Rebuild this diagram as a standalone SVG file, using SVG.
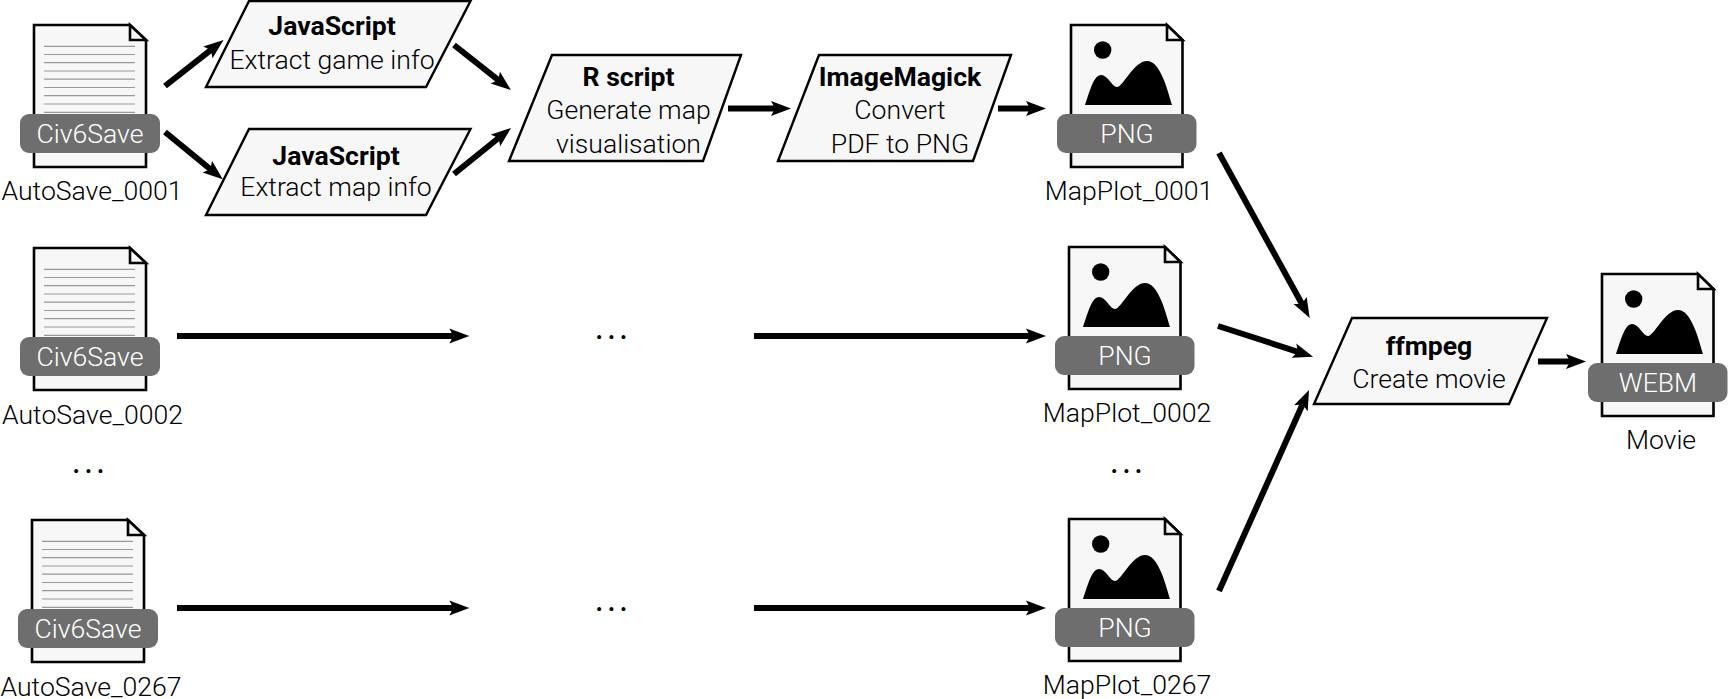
<svg xmlns="http://www.w3.org/2000/svg" width="1728" height="699" viewBox="0 0 1728 699">
<style>
text{font-family:Roboto,"Liberation Sans",sans-serif;font-size:26.6px;font-weight:300;fill:#000;text-anchor:middle}
text.b{font-weight:700}
text.w{fill:#fff}
text.d{font-size:48px;letter-spacing:0.7px}
.page{fill:#f7f7f7;stroke:#000;stroke-width:2.6}
.fold{fill:#f7f7f7;stroke:#000;stroke-width:2.6}
.rule{stroke:#999;stroke-width:1.2;fill:none}
.badge{fill:#6e6e6e}
.para{fill:#f7f7f7;stroke:#000;stroke-width:2.4}
.arr{fill:none;stroke:#000;stroke-width:6;marker-end:url(#head)}
</style>
<defs>
<marker id="head" markerUnits="userSpaceOnUse" markerWidth="22" markerHeight="18" refX="4" refY="8" orient="auto"><path d="M0,0.500 L20,8 L0,15.500 L4,8 Z" fill="#000"/></marker>
<g id="textdoc">
<path class="page" d="M34,25 H130 L146,40 V167 H34 Z"/>
<path class="fold" d="M130,25 V40 H146 Z"/>
<path class="rule" d="M44,46.300H135M44,54.500H135M44,62.700H135M44,71H135M44,79.200H135M44,87.500H135M44,95.700H135M44,104H135M44,112.300H135"/>
<rect class="badge" x="20" y="114" width="140" height="39" rx="9"/>
<text class="w" x="90" y="142.500">Civ6Save</text>
</g>
<g id="imgdoc">
<path class="page" d="M1071,25 H1167 L1182.500,40 V167 H1071 Z"/>
<path class="fold" d="M1167,25 V40 H1182.500 Z"/>
<circle cx="1102.700" cy="50" r="8.700"/>
<path d="M1085,105 C1090,90 1094,75 1101,75 C1108,75 1112,87 1117,87 C1123,87 1134,61 1147,61 C1160,61 1167,88 1172,105 Z"/>
<rect class="badge" x="1057" y="114" width="139.500" height="39" rx="9"/>
</g>
</defs>
<g id="connectors">
<path class="arr" d="M165,86L211,49.900"/>
<path class="arr" d="M165,132L210.400,169.200"/>
<path class="arr" d="M454,45L498.400,80.100"/>
<path class="arr" d="M454,174L498.600,138"/>
<path class="arr" d="M728,108.500H775"/>
<path class="arr" d="M998,108.500H1030"/>
<path class="arr" d="M177,336H453.300"/>
<path class="arr" d="M754,336H1030"/>
<path class="arr" d="M177,608H453.300"/>
<path class="arr" d="M754,608H1030"/>
<path class="arr" d="M1219,153L1302,304"/>
<path class="arr" d="M1218,326L1297.800,351.800"/>
<path class="arr" d="M1219,591L1302.500,404.600"/>
<path class="arr" d="M1538,361.500H1570"/>
</g>
<g id="autosave1"><use href="#textdoc"/><text x="92" y="199.500">AutoSave_0001</text></g>
<g id="autosave2"><use href="#textdoc" y="223"/><text x="92.500" y="423.500">AutoSave_0002</text></g>
<g id="autosave3"><use href="#textdoc" x="-2" y="495"/><text x="91" y="695.500">AutoSave_0267</text></g>
<g id="js1"><polygon class="para" points="249,1 470.500,1 426,87 206,87"/><text class="b" x="332" y="34.500">JavaScript</text><text x="332" y="68.500">Extract game info</text></g>
<g id="js2"><polygon class="para" points="249,129 470.500,129 426,215 206,215"/><text class="b" x="336" y="165">JavaScript</text><text x="336" y="195.500">Extract map info</text></g>
<g id="rscript"><polygon class="para" points="552,55 741,55 703,161 509,161"/><text class="b" x="628.500" y="85.500">R script</text><text x="628.500" y="119">Generate map</text><text x="628.500" y="152.500">visualisation</text></g>
<g id="imagemagick"><polygon class="para" points="819,55 1011,55 973,161 778,161"/><text class="b" x="900" y="85.500">ImageMagick</text><text x="900" y="119">Convert</text><text x="900" y="152.500">PDF to PNG</text></g>
<g id="ffmpeg"><polygon class="para" points="1352,318 1547,318 1509,404 1314,404"/><text class="b" x="1429" y="355">ffmpeg</text><text x="1429" y="388">Create movie</text></g>
<g id="mapplot1"><use href="#imgdoc"/><text class="w" x="1127" y="142.500">PNG</text><text x="1129" y="199.500">MapPlot_0001</text></g>
<g id="mapplot2"><use href="#imgdoc" x="-2" y="222"/><text class="w" x="1125" y="364.500">PNG</text><text x="1127" y="421.500">MapPlot_0002</text></g>
<g id="mapplot3"><use href="#imgdoc" x="-2" y="494"/><text class="w" x="1125" y="636.500">PNG</text><text x="1127" y="693.500">MapPlot_0267</text></g>
<g id="movie"><use href="#imgdoc" x="531" y="249"/><text class="w" x="1658" y="391.500">WEBM</text><text x="1661" y="449">Movie</text></g>
<text class="d" x="612" y="338.500">...</text>
<text class="d" x="612" y="610.500">...</text>
<text class="d" x="89" y="472.500">...</text>
<text class="d" x="1127" y="472.500">...</text>
</svg>
